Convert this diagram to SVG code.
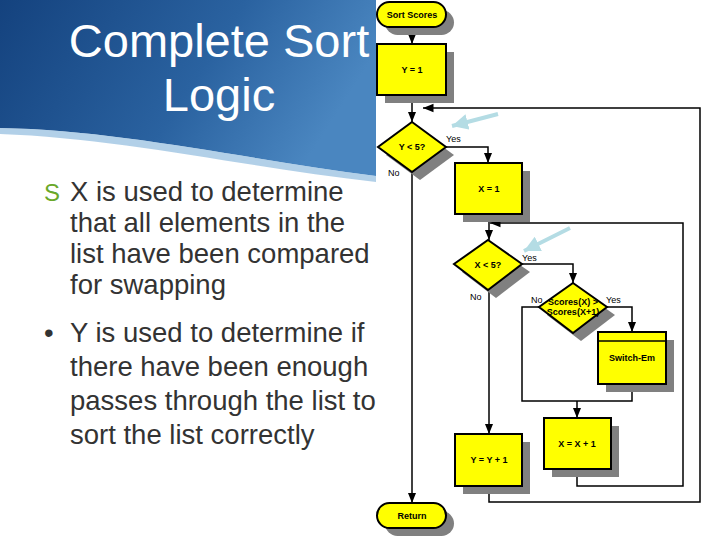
<svg xmlns="http://www.w3.org/2000/svg" width="720" height="540" viewBox="0 0 720 540">
<defs>
<linearGradient id="bg" x1="0" y1="0" x2="1" y2="0.3">
<stop offset="0" stop-color="#14427e"/><stop offset="0.6" stop-color="#2a62a0"/><stop offset="1" stop-color="#4a86c0"/>
</linearGradient>
<marker id="ah" viewBox="0 0 10 10" refX="10" refY="5" markerWidth="7" markerHeight="7" orient="auto"><path d="M0,1 L10,5 L0,9 Z" fill="#000"/></marker>
<marker id="bh" viewBox="0 0 10 10" refX="10" refY="5" markerWidth="4" markerHeight="4" orient="auto"><path d="M0,0 L10,5 L0,10 Z" fill="#b4dce4"/></marker>
<style>
.n{fill:#ffff00;stroke:#000;stroke-width:2}
.sh{fill:#808080}
.t{font-family:"Liberation Sans",Arial,sans-serif;font-size:9px;fill:#000;text-anchor:middle;font-weight:bold}
.l{font-family:"Liberation Sans",Arial,sans-serif;font-size:9px;fill:#000}
.c{fill:none;stroke:#000;stroke-width:1.5}
.b{font-family:"Liberation Sans",Arial,sans-serif;font-size:27.5px;fill:#333}
</style>
</defs>
<rect width="720" height="540" fill="#fff"/>
<path d="M0,0 H376 V176 C250,160 120,130 0,128 Z" fill="url(#bg)"/>
<path d="M0,128 C120,130 250,160 376,176 V182 C250,168 120,138 0,134 Z" fill="#7fb0d8" opacity="0.6"/>
<g font-family="Liberation Sans,Arial,sans-serif" font-size="47" fill="#fff" text-anchor="middle">
<text x="219" y="57">Complete Sort</text>
<text x="219" y="111">Logic</text>
</g>
<text x="44" y="201" font-family="Liberation Sans,Arial,sans-serif" font-size="24" fill="#6aa82a">S</text>
<text class="b" x="70" y="201">X is used to determine</text>
<text class="b" x="70" y="232">that all elements in the</text>
<text class="b" x="70" y="263">list have been compared</text>
<text class="b" x="70" y="294">for swapping</text>
<text class="b" x="44" y="342">•</text>
<text class="b" x="70" y="342">Y is used to determine if</text>
<text class="b" x="70" y="376">there have been enough</text>
<text class="b" x="70" y="410">passes through the list to</text>
<text class="b" x="70" y="444">sort the list correctly</text>

<g id="connectors">
<path class="c" d="M412,27 V44" marker-end="url(#ah)"/>
<path class="c" d="M412,95 V122" marker-end="url(#ah)"/>
<path class="c" d="M446,147 H488 V163" marker-end="url(#ah)"/>
<path class="c" d="M412,172 V503" marker-end="url(#ah)"/>
<path class="c" d="M489,214 V240" marker-end="url(#ah)"/>
<path class="c" d="M522,264 H573 V283" marker-end="url(#ah)"/>
<path class="c" d="M489,290 V434" marker-end="url(#ah)"/>
<path class="c" d="M607,307 H632 V332" marker-end="url(#ah)"/>
<path class="c" d="M539,307 H522 V401 H632 V384"/>
<path class="c" d="M577,401 V418" marker-end="url(#ah)"/>
<path class="c" d="M577,469 V486 H683 V223 H490" marker-end="url(#ah)"/>
<path class="c" d="M489,486 V502 H700 V108 H423" marker-end="url(#ah)"/>
<path d="M498,114 L452,126" stroke="#b4dce4" stroke-width="4" marker-end="url(#bh)"/>
<path d="M570,228 L524,251" stroke="#b4dce4" stroke-width="4" marker-end="url(#bh)"/>
</g>
<g id="labels">
<text class="l" x="446" y="142">Yes</text>
<text class="l" x="388" y="176">No</text>
<text class="l" x="522" y="261">Yes</text>
<text class="l" x="470" y="300">No</text>
<text class="l" x="531" y="303">No</text>
<text class="l" x="606" y="303">Yes</text>
</g>
<g id="sort-scores"><rect class="sh" x="385" y="10" width="69" height="25" rx="12.5"/><rect class="n" x="377" y="2" width="69" height="25" rx="12.5"/><text class="t" x="412" y="18">Sort Scores</text></g>
<g id="y1"><rect class="sh" x="385" y="52" width="69" height="51"/><rect class="n" x="377" y="44" width="69" height="51"/><text class="t" x="412" y="73">Y = 1</text></g>
<g id="ylt5"><path class="sh" d="M420,130 L454,155 L420,180 L386,155 Z"/><path class="n" d="M412,122 L446,147 L412,172 L378,147 Z"/><text class="t" x="412" y="150">Y &lt; 5?</text></g>
<g id="x1"><rect class="sh" x="463" y="171" width="67" height="51"/><rect class="n" x="455" y="163" width="67" height="51"/><text class="t" x="489" y="192">X = 1</text></g>
<g id="xlt5"><path class="sh" d="M496,248 L530,272 L496,298 L462,272 Z"/><path class="n" d="M488,240 L522,264 L488,290 L454,264 Z"/><text class="t" x="488" y="268">X &lt; 5?</text></g>
<g id="compare"><path class="sh" d="M581,291 L615,315 L581,341 L547,315 Z"/><path class="n" d="M573,283 L607,307 L573,333 L539,307 Z"/><text class="t" x="573" y="305" font-weight="normal">Scores(X) &gt;</text><text class="t" x="573" y="315" font-weight="normal">Scores(X+1)</text></g>
<g id="switch"><rect class="sh" x="606" y="340" width="68" height="52"/><rect class="n" x="598" y="332" width="68" height="52"/><line x1="598" y1="341" x2="666" y2="341" stroke="#000" stroke-width="1.5"/><text class="t" x="632" y="361">Switch-Em</text></g>
<g id="xinc"><rect class="sh" x="552" y="426" width="67" height="51"/><rect class="n" x="544" y="418" width="67" height="51"/><text class="t" x="577" y="447">X = X + 1</text></g>
<g id="yinc"><rect class="sh" x="463" y="442" width="67" height="52"/><rect class="n" x="455" y="434" width="67" height="52"/><text class="t" x="489" y="463">Y = Y + 1</text></g>
<g id="return"><rect class="sh" x="385" y="511" width="69" height="25" rx="12.5"/><rect class="n" x="377" y="503" width="69" height="25" rx="12.5"/><text class="t" x="412" y="519">Return</text></g>
</svg>
